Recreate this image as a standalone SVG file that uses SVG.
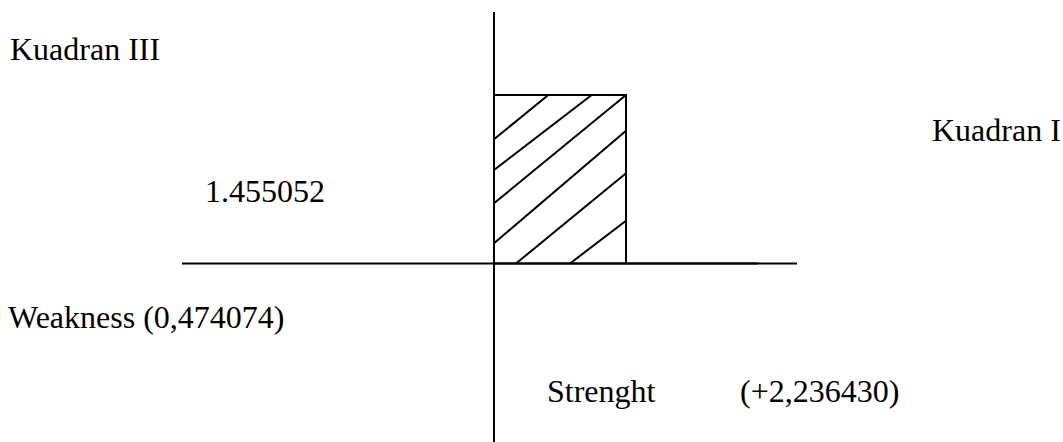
<svg xmlns="http://www.w3.org/2000/svg" width="1063" height="442" viewBox="0 0 1063 442">
<style>
.t{font-family:"Liberation Serif","Times New Roman",serif;font-size:32px;fill:#000}
.l{stroke:#000;stroke-width:2;fill:none}
</style>
<rect width="1063" height="442" fill="#fff"/>
<g id="connectors">
<line class="l" x1="494" y1="12" x2="494" y2="442"/>
<line class="l" x1="182" y1="263.5" x2="797" y2="263.5"/>
<line class="l" x1="626" y1="263.5" x2="758" y2="263.5"/>
</g>
<g id="box">
<rect class="l" x="494" y="95" width="132" height="168.5"/>
<line class="l" x1="494" y1="139.3" x2="548.3" y2="95"/>
<line class="l" x1="494" y1="170" x2="591.7" y2="95"/>
<line class="l" x1="494" y1="203.3" x2="626" y2="95"/>
<line class="l" x1="494" y1="243.3" x2="626" y2="130.7"/>
<line class="l" x1="516" y1="263.5" x2="626" y2="173.3"/>
<line class="l" x1="570" y1="263.5" x2="626" y2="220.7"/>
</g>
<g id="labels">
<text class="t" x="10" y="60">Kuadran III</text>
<text class="t" x="932" y="141">Kuadran I</text>
<text class="t" x="205" y="202">1.455052</text>
<text class="t" x="8" y="328">Weakness (0,474074)</text>
<text class="t" x="547" y="402">Strenght</text>
<text class="t" x="740" y="402">(+2,236430)</text>
</g>
</svg>
